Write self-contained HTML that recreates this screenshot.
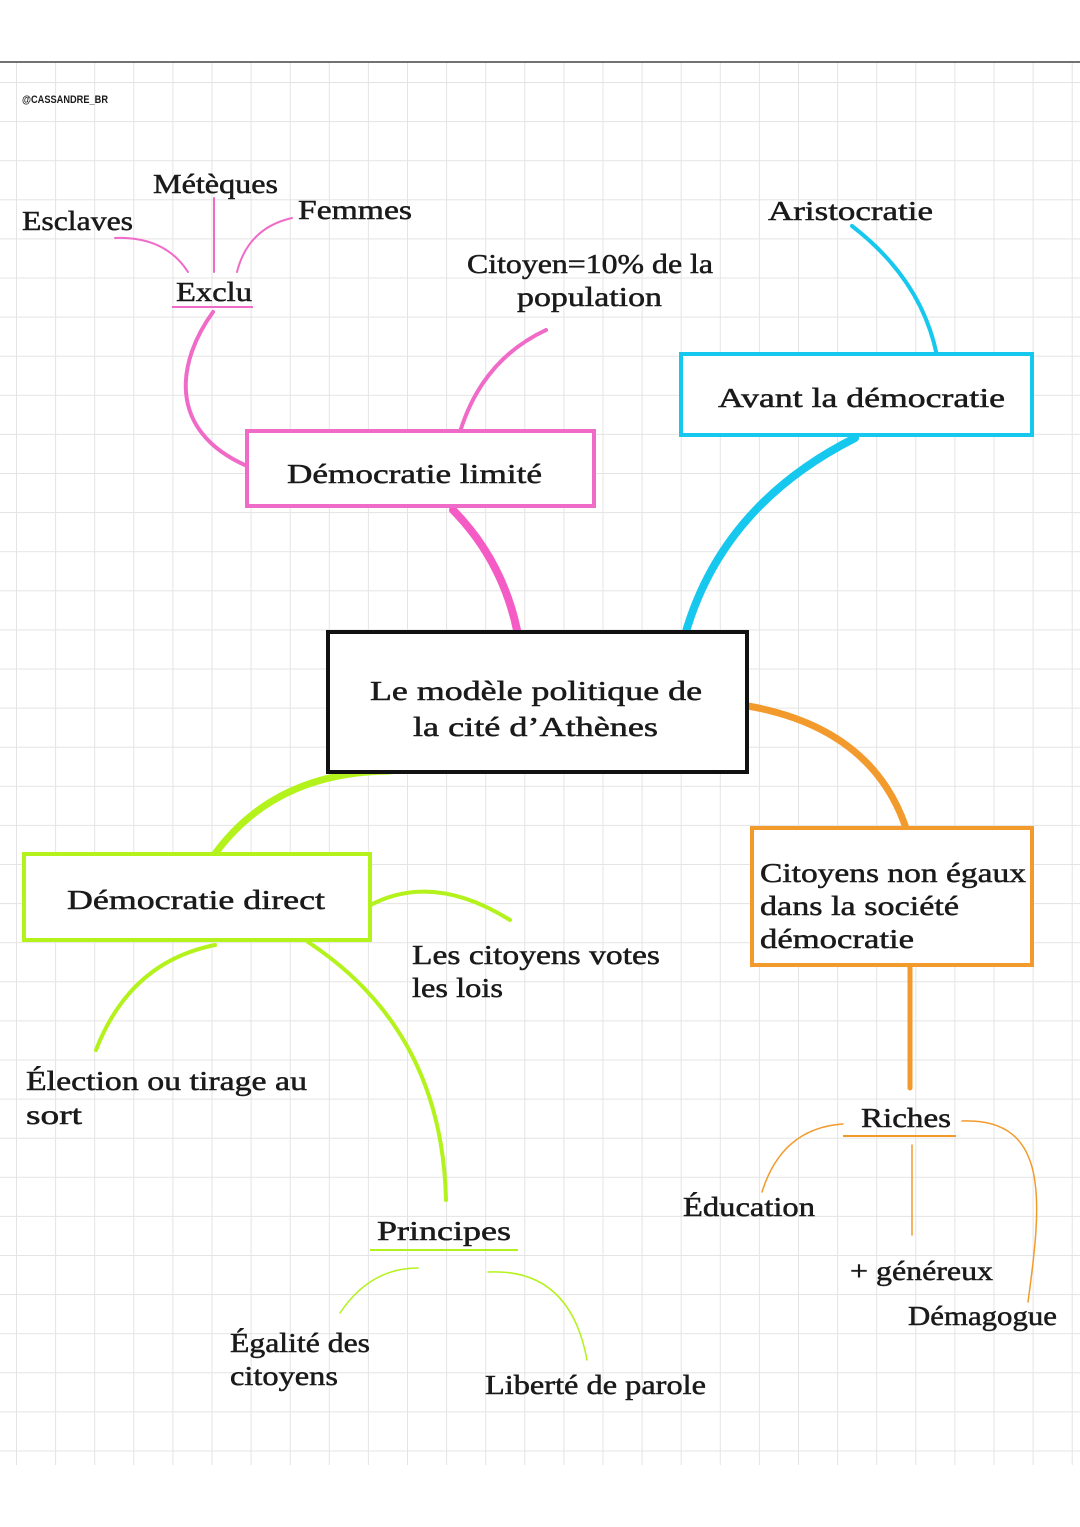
<!DOCTYPE html>
<html><head><meta charset="utf-8"><style>
html,body{margin:0;padding:0;background:#fff;}
svg{display:block}
text{font-family:"Liberation Serif",serif;font-size:27px;fill:#1a1a1a;stroke:#1a1a1a;stroke-width:0.5px;}
</style></head><body>
<svg width="1080" height="1527" viewBox="0 0 1080 1527" xmlns="http://www.w3.org/2000/svg">
<defs>
<pattern id="g" x="16" y="82" width="39.1" height="39.1" patternUnits="userSpaceOnUse">
<path d="M0 0V39.1M0 0H39.1" stroke="#e4e4e4" stroke-width="2" fill="none"/>
</pattern>
</defs>
<rect x="0" y="62" width="1080" height="1403" fill="url(#g)"/>
<line x1="0" y1="62" x2="1080" y2="62" stroke="#444" stroke-width="1.5"/>
<text x="22" y="103" style="font-family:'Liberation Sans',sans-serif;font-size:11px;font-weight:bold;stroke-width:0" textLength="86" lengthAdjust="spacingAndGlyphs">@CASSANDRE_BR</text>

<g fill="none" stroke-linecap="round">
<path d="M115,238 Q165,236 188,272" stroke="#f06ac8" stroke-width="2"/>
<path d="M214,198 V272" stroke="#f06ac8" stroke-width="2"/>
<path d="M292,218 Q248,228 237,272" stroke="#f06ac8" stroke-width="2"/>
<path d="M213,312 C178,360 165,430 247,466" stroke="#f06ac8" stroke-width="4"/>
<path d="M546,330 Q482,360 460,432" stroke="#f06ac8" stroke-width="4"/>
<path d="M453,510 Q502,560 517,630" stroke="#f45bc4" stroke-width="8"/>
<path d="M852,226 Q922,280 937,356" stroke="#16c8ee" stroke-width="4"/>
<path d="M855,438 Q722,505 685,635" stroke="#16c8ee" stroke-width="8"/>
<path d="M748,706 Q872,728 906,828" stroke="#f29b2c" stroke-width="7"/>
<path d="M910,966 V1088" stroke="#f29b2c" stroke-width="5"/>
<path d="M843,1124 Q782,1128 762,1192" stroke="#f29b2c" stroke-width="1.5"/>
<path d="M912,1145 V1235" stroke="#f29b2c" stroke-width="1.5"/>
<path d="M962,1121 C1050,1118 1042,1200 1028,1302" stroke="#f29b2c" stroke-width="1.5"/>
<path d="M390,771 Q272,772 212,858" stroke="#b3f21b" stroke-width="7"/>
<path d="M365,908 Q430,870 510,920" stroke="#b3f21b" stroke-width="4"/>
<path d="M215,945 Q130,962 96,1050" stroke="#b3f21b" stroke-width="4"/>
<path d="M308,942 Q442,1030 446,1200" stroke="#b3f21b" stroke-width="4"/>
<path d="M418,1268 Q370,1268 340,1313" stroke="#b3f21b" stroke-width="1.5"/>
<path d="M488,1272 Q570,1268 587,1360" stroke="#b3f21b" stroke-width="1.5"/>
</g>

<rect x="681" y="354" width="351" height="81" fill="#fff" stroke="#16c8ee" stroke-width="4"/>
<rect x="247" y="431" width="347" height="75" fill="#fff" stroke="#f06ac8" stroke-width="4"/>
<rect x="328" y="632" width="419" height="140" fill="#fff" stroke="#111" stroke-width="4"/>
<rect x="24" y="854" width="346" height="86" fill="#fff" stroke="#b3f21b" stroke-width="4"/>
<rect x="752" y="828" width="280" height="137" fill="#fff" stroke="#f29b2c" stroke-width="4"/>

<line x1="172" y1="307" x2="253" y2="307" stroke="#f06ac8" stroke-width="2"/>
<line x1="370" y1="1250" x2="518" y2="1250" stroke="#b3f21b" stroke-width="2"/>
<line x1="843" y1="1136" x2="956" y2="1136" stroke="#f29b2c" stroke-width="2"/>

<text x="153" y="193" textLength="125" lengthAdjust="spacingAndGlyphs">Métèques</text>
<text x="22" y="230" textLength="111" lengthAdjust="spacingAndGlyphs">Esclaves</text>
<text x="298" y="219" textLength="114" lengthAdjust="spacingAndGlyphs">Femmes</text>
<text x="176" y="301" textLength="76" lengthAdjust="spacingAndGlyphs">Exclu</text>
<text x="768" y="220" textLength="165" lengthAdjust="spacingAndGlyphs">Aristocratie</text>
<text x="467" y="273" textLength="246" lengthAdjust="spacingAndGlyphs">Citoyen=10% de la</text>
<text x="517" y="306" textLength="145" lengthAdjust="spacingAndGlyphs">population</text>
<text x="718" y="407" textLength="287" lengthAdjust="spacingAndGlyphs">Avant la démocratie</text>
<text x="287" y="483" textLength="255" lengthAdjust="spacingAndGlyphs">Démocratie limité</text>
<text x="370" y="700" textLength="332" lengthAdjust="spacingAndGlyphs">Le modèle politique de</text>
<text x="413" y="736" textLength="245" lengthAdjust="spacingAndGlyphs">la cité d’Athènes</text>
<text x="67" y="909" textLength="258" lengthAdjust="spacingAndGlyphs">Démocratie direct</text>
<text x="760" y="882" textLength="266" lengthAdjust="spacingAndGlyphs">Citoyens non égaux</text>
<text x="760" y="915" textLength="199" lengthAdjust="spacingAndGlyphs">dans la société</text>
<text x="760" y="948" textLength="154" lengthAdjust="spacingAndGlyphs">démocratie</text>
<text x="412" y="964" textLength="248" lengthAdjust="spacingAndGlyphs">Les citoyens votes</text>
<text x="412" y="997" textLength="91" lengthAdjust="spacingAndGlyphs">les lois</text>
<text x="26" y="1090" textLength="281" lengthAdjust="spacingAndGlyphs">Élection ou tirage au</text>
<text x="26" y="1124" textLength="56" lengthAdjust="spacingAndGlyphs">sort</text>
<text x="377" y="1240" textLength="134" lengthAdjust="spacingAndGlyphs">Principes</text>
<text x="230" y="1352" textLength="140" lengthAdjust="spacingAndGlyphs">Égalité des</text>
<text x="230" y="1385" textLength="108" lengthAdjust="spacingAndGlyphs">citoyens</text>
<text x="485" y="1394" textLength="221" lengthAdjust="spacingAndGlyphs">Liberté de parole</text>
<text x="861" y="1127" textLength="90" lengthAdjust="spacingAndGlyphs">Riches</text>
<text x="683" y="1216" textLength="132" lengthAdjust="spacingAndGlyphs">Éducation</text>
<text x="850" y="1280" textLength="143" lengthAdjust="spacingAndGlyphs">+ généreux</text>
<text x="908" y="1325" textLength="149" lengthAdjust="spacingAndGlyphs">Démagogue</text>
</svg>
</body></html>
